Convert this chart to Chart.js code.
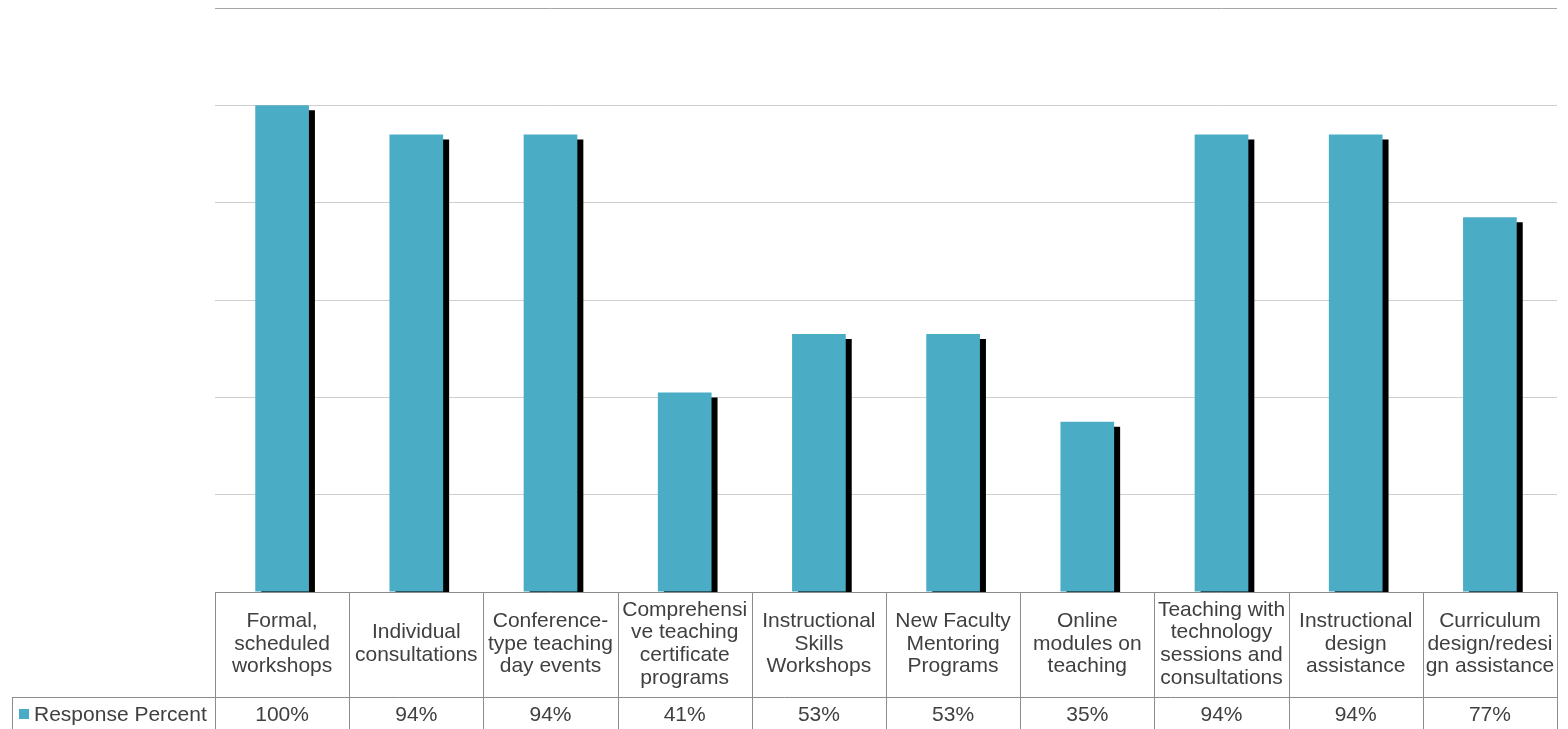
<!DOCTYPE html>
<html>
<head>
<meta charset="utf-8">
<script src="https://cdn.jsdelivr.net/npm/chart.js@4/dist/chart.umd.min.js"></script>
<style>
  html, body { margin: 0; padding: 0; background: #fff; }
  #wrap { width: 1568px; height: 729px; }
</style>
</head>
<body>
<div id="wrap"><canvas id="grafico"></canvas></div>
<script>
// ================== DATA ==================
const categorias = [
  ["Formal,", "scheduled", "workshops"],
  ["Individual", "consultations"],
  ["Conference-", "type teaching", "day events"],
  ["Comprehensi", "ve teaching", "certificate", "programs"],
  ["Instructional", "Skills", "Workshops"],
  ["New Faculty", "Mentoring", "Programs"],
  ["Online", "modules on", "teaching"],
  ["Teaching with", "technology", "sessions and", "consultations"],
  ["Instructional", "design", "assistance"],
  ["Curriculum", "design/redesi", "gn assistance"]
];
const valores = [100, 94, 94, 41, 53, 53, 35, 94, 94, 77];
const serieNome = "Response Percent";
const eixoY = [0, 20, 40, 60, 80, 100, 120];

const COR = "#4BACC6";
const TEXTO = "#404040";
const LINHA = "#8c8c8c";
const FONTE = '21px "Liberation Sans", Arial, sans-serif';

// ================== SHADOW UNDER THE BARS ==================
const sombra = {
  id: "sombra",
  beforeDatasetsDraw(chart) {
    const ctx = chart.ctx;
    ctx.save();
    ctx.shadowColor = "#000";
    ctx.shadowOffsetX = 6;
    ctx.shadowOffsetY = 5;
    ctx.shadowBlur = 0;
  },
  afterDatasetsDraw(chart) {
    chart.ctx.restore();
  }
};

// ================== DATA TABLE BELOW THE PLOT ==================
const tabela = {
  id: "tabela",
  afterDraw(chart) {
    const { ctx, chartArea: a, scales: { x } } = chart;
    const topo = a.bottom;
    const meio = 697;
    const fim = 734;
    const larg = (a.right - a.left) / categorias.length;

    ctx.save();
    ctx.strokeStyle = LINHA;
    ctx.lineWidth = 1;
    ctx.beginPath();
    ctx.moveTo(a.left, Math.round(topo) + 0.5);
    ctx.lineTo(a.right, Math.round(topo) + 0.5);
    ctx.moveTo(12, meio + 0.5);
    ctx.lineTo(a.right, meio + 0.5);
    for (let i = 0; i <= categorias.length; i++) {
      const xx = Math.round(a.left + i * larg) + 0.5;
      ctx.moveTo(xx, topo);
      ctx.lineTo(xx, fim);
    }
    ctx.moveTo(12.5, meio);
    ctx.lineTo(12.5, fim);
    ctx.stroke();

    // category names, centred in the first row
    ctx.fillStyle = TEXTO;
    ctx.font = FONTE;
    ctx.textAlign = "center";
    ctx.textBaseline = "middle";
    const alturaLinha = 22.7;
    const centro = (topo + meio) / 2 - 0.5;
    categorias.forEach((linhas, i) => {
      const cx = x.getPixelForValue(i);
      const y0 = centro - (linhas.length - 1) * alturaLinha / 2;
      linhas.forEach((t, j) => ctx.fillText(t, cx, y0 + j * alturaLinha));
    });

    // values row
    valores.forEach((v, i) => {
      ctx.fillText(v + "%", x.getPixelForValue(i), 715);
    });

    // legend key + series name
    ctx.fillStyle = COR;
    ctx.fillRect(19, 709, 10, 10);
    ctx.fillStyle = TEXTO;
    ctx.textAlign = "left";
    ctx.fillText(serieNome, 34, 715);
    ctx.restore();
  }
};

// ================== CHART ==================
const ctx = document.getElementById("grafico").getContext("2d");
const grafico = new Chart(ctx, {
  type: "bar",
  data: {
    labels: categorias,
    datasets: [{
      label: serieNome,
      data: valores,
      backgroundColor: COR,
      borderWidth: 0,
      categoryPercentage: 1,
      barPercentage: 0.4
    }]
  },
  options: {
    responsive: true,
    maintainAspectRatio: false,
    animation: false,
    layout: { padding: { left: 215, right: 11, top: 8, bottom: 137 } },
    plugins: {
      legend: { display: false },
      tooltip: { enabled: false }
    },
    scales: {
      x: { display: false },
      y: {
        min: eixoY[0],
        max: eixoY[eixoY.length - 1],
        afterBuildTicks: (s) => { s.ticks = eixoY.map(v => ({ value: v })); },
        ticks: { display: false },
        border: { display: false },
        grid: {
          drawTicks: false,
          color: (c) => c.tick && c.tick.value === 120 ? "#a6a6a6" : "#cfcfcf"
        }
      }
    }
  },
  plugins: [sombra, tabela]
});
</script>
</body>
</html>
